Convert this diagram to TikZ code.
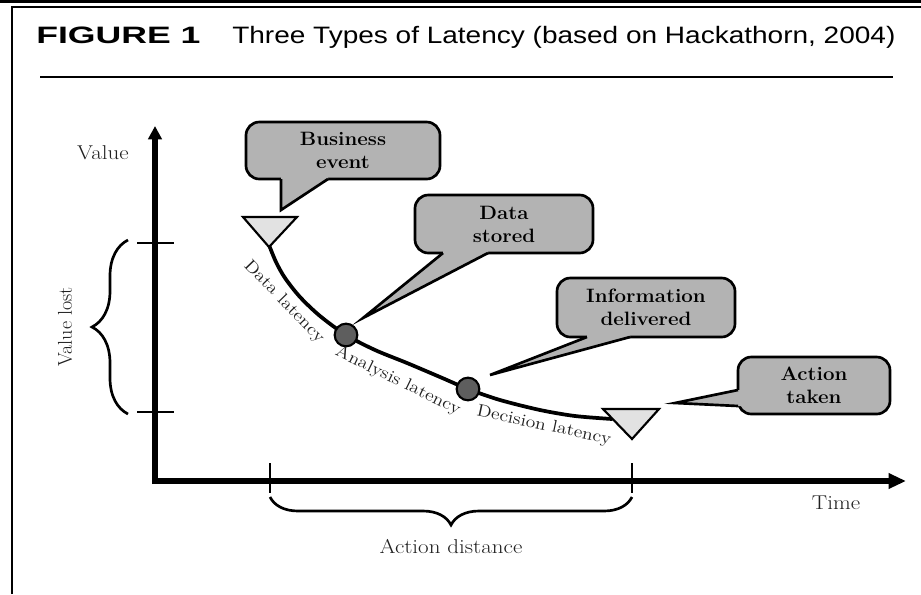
\documentclass[tikz,border=0pt]{standalone}
\usepackage{fontspec}
\newfontfamily\hfont{Liberation Sans}
\usetikzlibrary{arrows.meta,decorations.pathreplacing}
\newcommand{\hs}[1]{\scalebox{1.15}[1]{#1}}
\newcommand{\hsc}[1]{\scalebox{1.06}[1]{#1}}
\newcommand{\hst}[1]{\scalebox{1.18}[1]{#1}}
\newcommand{\hsb}[1]{\scalebox{1.5}[1]{#1}}
\definecolor{callgray}{HTML}{B3B3B3}
\definecolor{trigray}{HTML}{E2E2E2}
\definecolor{dotgray}{HTML}{5E5E5E}
\definecolor{inkgray}{HTML}{202020}
\tikzset{
 axisline/.style={line width=3.8pt},
 tickline/.style={line width=2.2pt},
 curveline/.style={line width=2.8pt, line cap=round},
 bracestyle/.style={line width=2pt, decorate},
 callbox/.style={draw, line width=2pt, fill=callgray, rounded corners=10pt, inner sep=0pt, align=center, font=\fontsize{14.5}{17.25}\selectfont\bfseries},
 tailfill/.style={fill=callgray},
 tailline/.style={line width=2pt, line join=miter},
 tri/.style={draw, line width=1.6pt, fill=trigray, line join=miter},
 dotnode/.style={circle, draw, line width=1.6pt, fill=dotgray, minimum size=17pt, inner sep=0pt},
 lbl/.style={font=\fontsize{15}{17}\selectfont, inner sep=0pt, text=inkgray},
 curvelbl/.style={font=\fontsize{12.8}{15}\selectfont, inner sep=0pt, text=inkgray},
}
\begin{document}
\begin{tikzpicture}[x=0.75pt,y=-0.75pt]
\useasboundingbox (0,0) rectangle (921,594);
\fill[white] (0,0) rectangle (921,594);
% frame
\draw[line width=2.2pt] (0,1.5) -- (921,1.5);
\draw[line width=1.2pt] (12,594) -- (12,7) -- (921,7);
% title
\node[anchor=base west, inner sep=0pt, font=\hfont\fontsize{17.8}{20}\selectfont\bfseries] (fig) at (36,43) {\hsb{FIGURE 1}};
\node[anchor=base west, inner sep=0pt, font=\hfont\fontsize{17.8}{20}\selectfont] (title) at (232,43) {\hst{Three Types of Latency (based on Hackathorn, 2004)}};
\draw[line width=1pt] (40,77) -- (893,77);
% axes
\coordinate (O) at (155,481);
\coordinate (ytop) at (155,126);
\coordinate (xend) at (906,481);
\draw[axisline, -{Triangle[length=10pt,width=10pt]}] (155,484) -- (ytop);
\draw[axisline, -{Triangle[length=13pt,width=11pt]}] (152,481) -- (xend);
% ticks
\draw[tickline] (137,243) -- (174,243);
\draw[tickline] (137,412) -- (174,412);
\draw[tickline] (270,463) -- (270,493);
\draw[tickline] (632,463) -- (632,493);
% braces
\draw[bracestyle, decoration={brace, amplitude=27pt}] (128,414) -- (128,240);
\draw[bracestyle, decoration={brace, amplitude=21pt}] (632,497) -- (270,497);
% axis labels
\node[lbl] (value) at (103,153) {\hs{Value}};
\node[lbl, rotate=90] (valuelost) at (65,327) {Value lost};
\node[lbl] (time) at (836,503) {\hs{Time}};
\node[lbl] (actdist) at (451,546) {\hs{Action distance}};
% curve
\draw[curveline] plot[smooth] coordinates {(269,245) (276,262) (285,278) (300,297) (320,316) (346,335) (375,350) (407,363) (440,377) (468,389) (500,400) (540,410) (575,416) (612,419)};
% triangles
\draw[tri] (243,217) -- (297,217) -- (269,247) -- cycle;
\draw[tri] (603,409) -- (659,409) -- (632,439) -- cycle;
% dots
\node[dotnode] (d1) at (346,335) {};
\node[dotnode] (d2) at (468,389) {};
% curve labels
\node[curvelbl, rotate=-46] (dl) at (284,302) {\hs{Data latency}};
\node[curvelbl, rotate=-26] (al) at (398,381) {\hs{Analysis latency}};
\node[curvelbl, rotate=-12] (decl) at (544,426) {\hs{Decision latency}};
% callouts
\node[callbox, minimum width=145.5pt, minimum height=42.75pt] (be) at (343,150.5) {\hsc{Business}\\\hsc{event}};
\node[callbox, minimum width=133.5pt, minimum height=43.5pt] (ds) at (504,224) {\hsc{Data}\\\hsc{stored}};
\node[callbox, minimum width=133.5pt, minimum height=44.25pt] (id) at (646,307.5) {\hsc{Information}\\\hsc{delivered}};
\node[callbox, minimum width=114pt, minimum height=42.75pt] (at) at (814,385.5) {\hsc{Action}\\\hsc{taken}};
% tails
\coordinate (tbe) at (281,210);
\coordinate (tds) at (363,318);
\coordinate (tid) at (490,375);
\coordinate (tat) at (675,403);
\fill[tailfill] (tbe) -- (281,179) -- (281,175.5) -- (328,175.5) -- (328,179) -- cycle;
\draw[tailline] (281,179) -- (tbe) -- (328,179);
\fill[tailfill] (tds) -- (443,253) -- (443,249.5) -- (488,249.5) -- (488,253) -- cycle;
\draw[tailline] (443,253) -- (tds) -- (488,253);
\fill[tailfill] (tid) -- (587,337) -- (587,333.5) -- (630,333.5) -- (630,337) -- cycle;
\draw[tailline] (587,337) -- (tid) -- (630,337);
\fill[tailfill] (tat) -- (738,390) -- (741.5,390) -- (741.5,406) -- (738,406) -- cycle;
\draw[tailline] (738,390) -- (tat) -- (738,406);
\end{tikzpicture}
\end{document}
